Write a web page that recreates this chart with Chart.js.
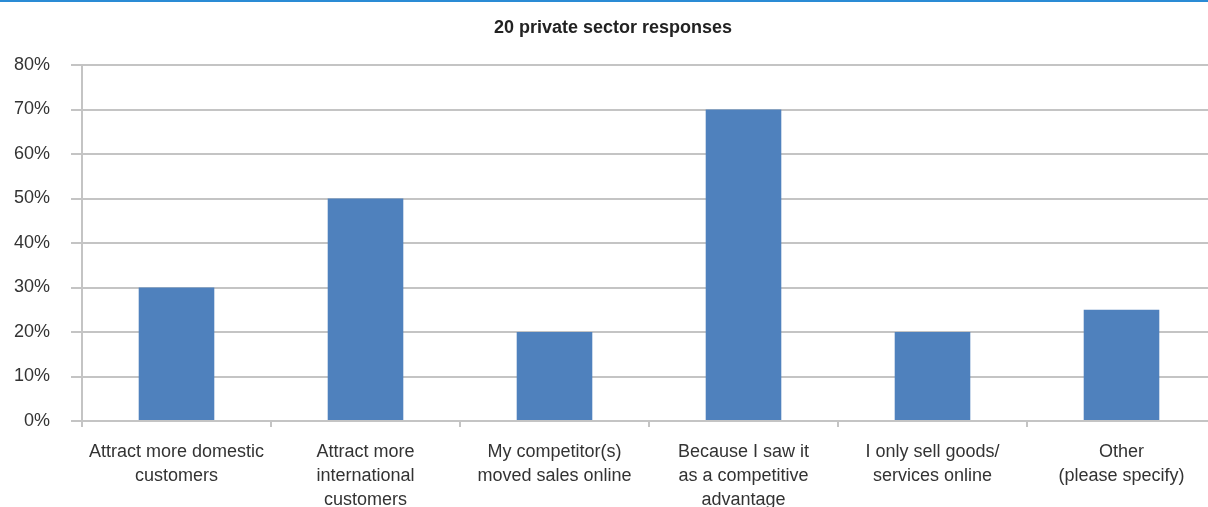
<!DOCTYPE html>
<html>
<head>
<meta charset="utf-8">
<script src="https://cdn.jsdelivr.net/npm/chart.js@4"></script>
<style>
  html, body { margin: 0; padding: 0; background: #fff; }
  #wrap { position: relative; width: 1208px; height: 507px; overflow: hidden; }
  #topline { position: absolute; left: 0; top: 0; width: 1208px; height: 2px; background: #2a8bd5; z-index: 2; }
  #box { position: absolute; left: 0; top: 0; width: 1216px; height: 507px; }
</style>
</head>
<body>
<div id="wrap">
  <div id="topline"></div>
  <div id="box"><canvas id="chart"></canvas></div>
</div>
<script>
// Données du graphique
const categories = [
  ['Attract more domestic', 'customers'],
  ['Attract more', 'international', 'customers'],
  ['My competitor(s)', 'moved sales online'],
  ['Because I saw it', 'as a competitive', 'advantage'],
  ['I only sell goods/', 'services online'],
  ['Other', '(please specify)']
];
const responses = [30, 50, 20, 70, 20, 25];
const yTicks = [0, 10, 20, 30, 40, 50, 60, 70, 80];

const gridColor = '#c4c4c4';
const textColor = '#333333';

new Chart(document.getElementById('chart'), {
  type: 'bar',
  data: {
    labels: categories,
    datasets: [{
      label: '20 private sector responses',
      data: responses,
      backgroundColor: '#4f81bd',
      barPercentage: 0.4,
      categoryPercentage: 1.0
    }]
  },
  options: {
    responsive: true,
    maintainAspectRatio: false,
    animation: false,
    layout: { padding: { left: 10, right: 0, top: 0, bottom: 0 } },
    plugins: {
      legend: { display: false },
      tooltip: { enabled: false },
      title: {
        display: true,
        text: '20 private sector responses',
        color: '#222',
        font: { family: 'Liberation Sans', size: 18, weight: 'bold' },
        padding: { top: 17, bottom: 26.4 }
      }
    },
    scales: {
      x: {
        offset: true,
        grid: {
          offset: true,
          drawOnChartArea: false,
          drawTicks: true,
          tickLength: 6,
          color: gridColor,
          lineWidth: 2
        },
        border: { color: gridColor, width: 2 },
        ticks: {
          color: textColor,
          padding: 13,
          maxRotation: 0,
          autoSkip: false,
          font: { family: 'Liberation Sans', size: 18, lineHeight: 1.33 }
        },
        afterFit: axis => { axis.height = 86; }
      },
      y: {
        min: 0,
        max: 80,
        afterBuildTicks: axis => { axis.ticks = yTicks.map(v => ({ value: v })); },
        grid: { color: gridColor, lineWidth: 2, tickLength: 11 },
        border: { color: gridColor, width: 2 },
        ticks: {
          color: textColor,
          padding: 21,
          font: { family: 'Liberation Sans', size: 18 },
          callback: v => v + '%'
        },
        afterFit: axis => { axis.width = 72; }
      }
    }
  }
});
</script>
</body>
</html>
